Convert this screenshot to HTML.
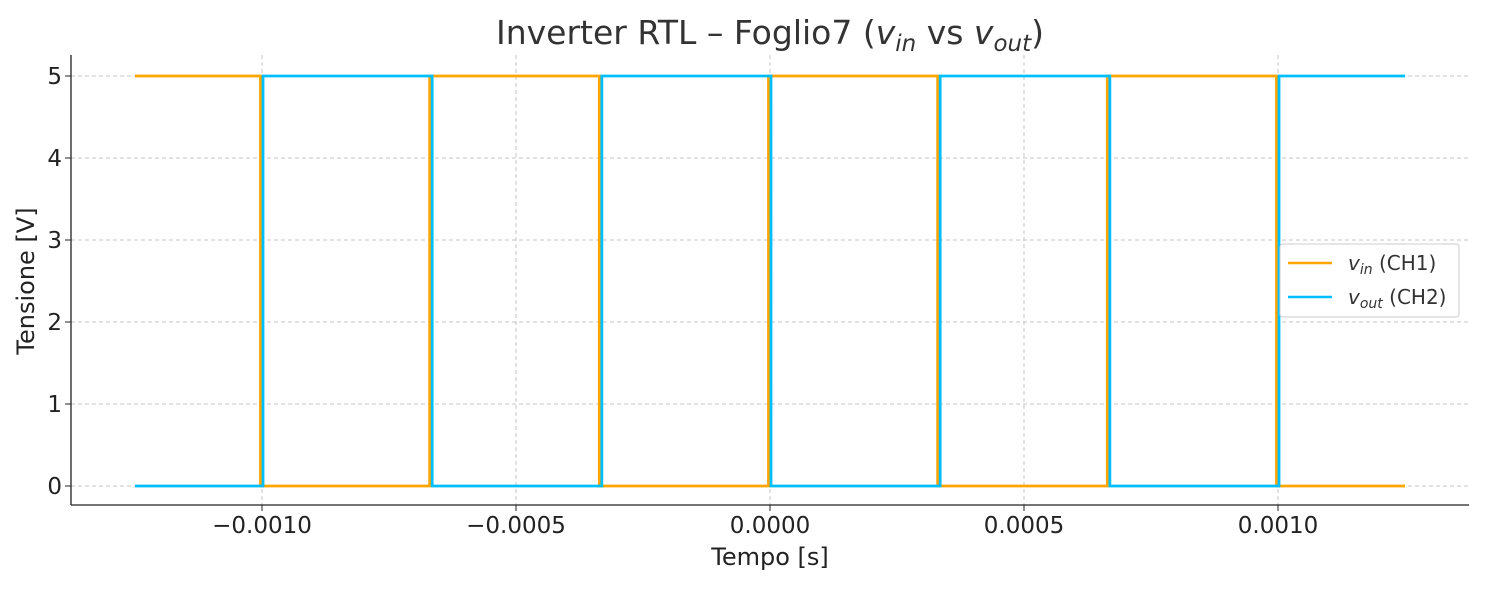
<!DOCTYPE html>
<html><head><meta charset="utf-8"><style>
body{margin:0;background:#fff}
svg{font-family:"DejaVu Sans","Liberation Sans",sans-serif}
</style></head><body>
<svg id="c" width="1485" height="585">
<text x="770" y="44" text-anchor="middle" font-size="33" fill="#333">Inverter RTL – Foglio7 (<tspan font-style="italic">v</tspan><tspan font-style="italic" font-size="23" dy="7">in</tspan><tspan dy="-7"> vs </tspan><tspan font-style="italic">v</tspan><tspan font-style="italic" font-size="23" dy="7">out</tspan><tspan dy="-7">)</tspan></text>
<g id="grid"></g>
<g id="series"></g>
<line x1="71" y1="55" x2="71" y2="505" stroke="#222" stroke-width="1.3"/>
<line x1="71" y1="505" x2="1469" y2="505" stroke="#222" stroke-width="1.3"/>
<g id="ticks"></g>
<text x="770" y="565" text-anchor="middle" font-size="24" fill="#222">Tempo [s]</text>
<text transform="translate(34,281) rotate(-90)" text-anchor="middle" font-size="24" fill="#222">Tensione [V]</text>
<g>
<rect x="1280" y="244" width="179" height="73" rx="3" fill="#fff" fill-opacity="0.85" stroke="#ccc"/>
<line x1="1288" y1="263" x2="1332" y2="263" stroke="#FFA500" stroke-width="2.5"/>
<text x="1348" y="270" font-size="20" fill="#333"><tspan font-style="italic">v</tspan><tspan font-style="italic" font-size="14" dy="4">in</tspan><tspan dy="-4"> (CH1)</tspan></text>
<line x1="1288" y1="297" x2="1332" y2="297" stroke="#00BFFF" stroke-width="2.5"/>
<text x="1348" y="304" font-size="20" fill="#333"><tspan font-style="italic">v</tspan><tspan font-style="italic" font-size="14" dy="4">out</tspan><tspan dy="-4"> (CH2)</tspan></text>
</g>
</svg>
<script>
const edgeTimes=[-0.00125,-0.001,-0.000667,-0.000333,0,0.000333,0.000667,0.001,0.00125];
const vinLevels=[5,0,5,0,5,0,5,0];
const voutLevels=[0,5,0,5,0,5,0,5];
const xTicks=[-0.001,-0.0005,0,0.0005,0.001];
const xTickLabels=["−0.0010","−0.0005","0.0000","0.0005","0.0010"];
const yTicks=[0,1,2,3,4,5];
const NS="http://www.w3.org/2000/svg";
const X=t=>770+t*508000, Y=v=>486-v*82;
function mk(tag,attrs,parent){const e=document.createElementNS(NS,tag);for(const k in attrs)e.setAttribute(k,attrs[k]);parent.appendChild(e);return e;}
const grid=document.getElementById('grid'),ticks=document.getElementById('ticks'),ser=document.getElementById('series');
xTicks.forEach((t,i)=>{
 const g=mk('line',{x1:X(t),x2:X(t),y1:55,y2:505,stroke:'#c4c4c4','stroke-dasharray':'4,3'},grid);
 
 
 mk('line',{x1:X(t),x2:X(t),y1:505,y2:511,stroke:'#222'},ticks);
 const tx=mk('text',{x:X(t),y:533,'text-anchor':'middle','font-size':'23',fill:'#222'},ticks);
 tx.textContent=xTickLabels[i];
 
 
});
yTicks.forEach(v=>{
 const g=mk('line',{x1:71,x2:1469,y1:Y(v),y2:Y(v),stroke:'#c4c4c4','stroke-dasharray':'4,3'},grid);
 
 
 mk('line',{x1:65,x2:71,y1:Y(v),y2:Y(v),stroke:'#222'},ticks);
 const tx=mk('text',{x:62,y:Y(v)+8,'text-anchor':'end','font-size':'23',fill:'#222'},ticks);
 tx.textContent=v;
 
 
});
function path(levels,dt){let d='';for(let i=0;i<levels.length;i++){const x0=X(edgeTimes[i])+(i?dt:0),x1=X(edgeTimes[i+1])+(i<levels.length-1?dt:0),y=Y(levels[i]);d+=(i?'L':'M')+x0+','+y+'L'+x1+','+y;}return d;}
const p1=mk('path',{d:path(vinLevels,-1.5),fill:'none',stroke:'#FFA500','stroke-width':2.8},ser);


const p2=mk('path',{d:path(voutLevels,1),fill:'none',stroke:'#00BFFF','stroke-width':2.8},ser);


</script>
</body></html>
